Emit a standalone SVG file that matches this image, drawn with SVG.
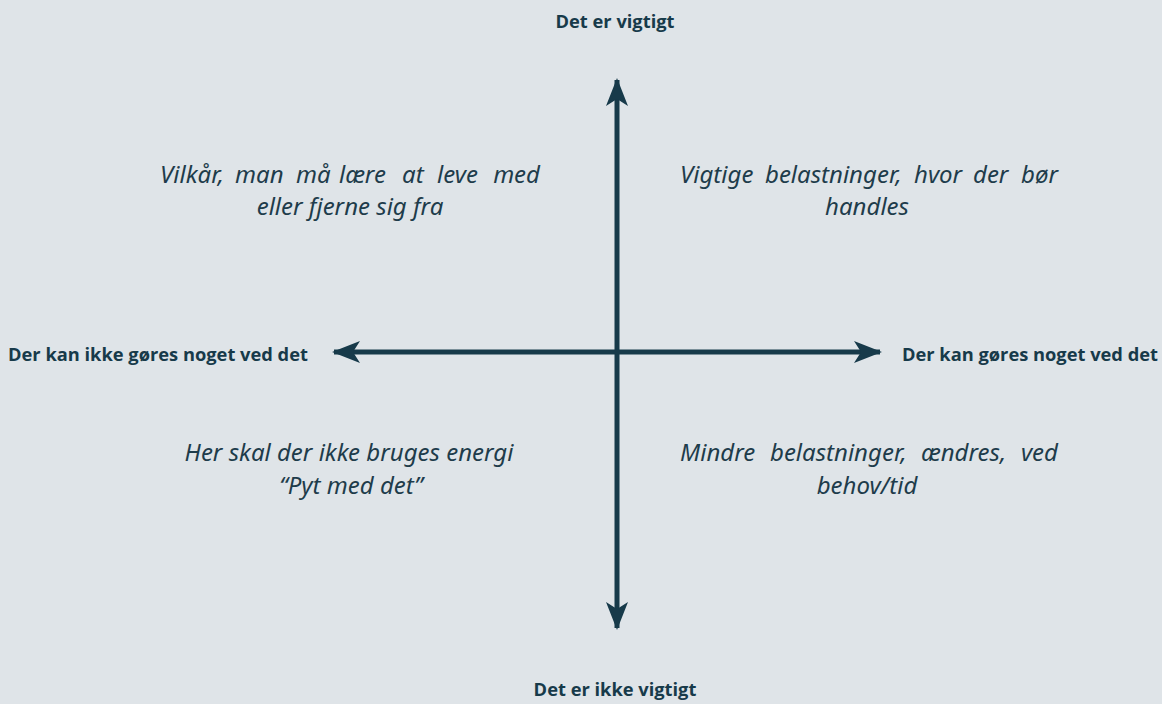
<svg xmlns="http://www.w3.org/2000/svg" width="1162" height="704" viewBox="0 0 1162 704">
<style>
.axis{stroke:#173a4a;stroke-width:5;fill:none}
.lbl{font-family:"Open Sans","DejaVu Sans",sans-serif;font-weight:bold;font-size:18.3px;fill:#173a4a}
.q{font-family:"Noto Sans","Open Sans",sans-serif;font-style:italic;font-size:24px;fill:#1e3c4b}
</style>
<defs>
<marker id="ah" viewBox="0 0 30 22" refX="26" refY="11" markerWidth="30" markerHeight="22" markerUnits="userSpaceOnUse" orient="auto-start-reverse">
<path d="M0,0 L28,11 L0,22 L7,11 Z" fill="#173a4a"/>
</marker>
</defs>
<rect width="1162" height="704" fill="#dfe4e8"/>
<g id="connectors">
<line class="axis" x1="617" y1="628" x2="617" y2="80" marker-start="url(#ah)" marker-end="url(#ah)"/>
<line class="axis" x1="334" y1="352" x2="880" y2="352" marker-start="url(#ah)" marker-end="url(#ah)"/>
</g>
<g id="top-label"><text class="lbl" x="615" y="28" text-anchor="middle">Det er vigtigt</text></g>
<g id="bottom-label"><text class="lbl" x="615" y="696" text-anchor="middle">Det er ikke vigtigt</text></g>
<g id="left-label"><text class="lbl" x="8" y="361">Der kan ikke gøres noget ved det</text></g>
<g id="right-label"><text class="lbl" x="1158" y="361" text-anchor="end">Der kan gøres noget ved det</text></g>
<g id="q-top-left">
<text class="q" y="183"><tspan x="160">Vilkår,</tspan><tspan x="235">man</tspan><tspan x="296">må</tspan><tspan x="339">lære</tspan><tspan x="402">at</tspan><tspan x="437">leve</tspan><tspan x="540" text-anchor="end">med</tspan></text>
<text class="q" x="350" y="215" text-anchor="middle">eller fjerne sig fra</text>
</g>
<g id="q-top-right">
<text class="q" y="183"><tspan x="680">Vigtige</tspan><tspan x="765">belastninger,</tspan><tspan x="914">hvor</tspan><tspan x="973">der</tspan><tspan x="1058" text-anchor="end">bør</tspan></text>
<text class="q" x="867" y="215" text-anchor="middle">handles</text>
</g>
<g id="q-bottom-left">
<text class="q" x="349" y="461" text-anchor="middle">Her skal der ikke bruges energi</text>
<text class="q" x="351" y="494" text-anchor="middle">“Pyt med det”</text>
</g>
<g id="q-bottom-right">
<text class="q" y="461"><tspan x="680">Mindre</tspan><tspan x="770">belastninger,</tspan><tspan x="921">ændres,</tspan><tspan x="1058" text-anchor="end">ved</tspan></text>
<text class="q" x="867" y="494" text-anchor="middle">behov/tid</text>
</g>
</svg>
